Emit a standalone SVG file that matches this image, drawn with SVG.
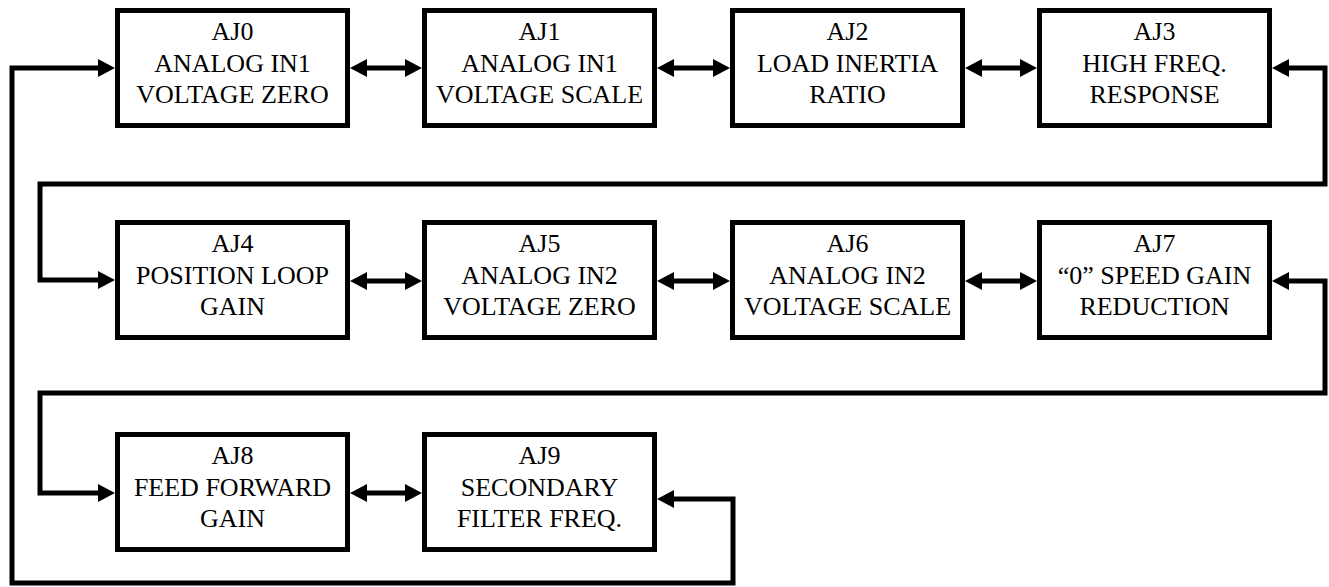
<svg xmlns="http://www.w3.org/2000/svg" width="1329" height="587" viewBox="0 0 1329 587">
<style>
.box{fill:#fff;stroke:#000;stroke-width:5}
.t{font-family:'Liberation Serif',Tinos,'Times New Roman',Times,'Nimbus Roman','Noto Serif','DejaVu Serif',serif;font-size:26px;text-anchor:middle;fill:#000}
.c{fill:none;stroke:#000;stroke-width:5;stroke-linejoin:miter}
.d{marker-start:url(#ah);marker-end:url(#ah)}
</style>
<defs>
<marker id="ah" markerUnits="userSpaceOnUse" markerWidth="17" markerHeight="18" viewBox="0 0 17 18" refX="7" refY="9" orient="auto-start-reverse">
<path d="M0,0 L17,9 L0,18 z" fill="#000"/>
</marker>
</defs>
<rect width="1329" height="587" fill="#fff"/>
<g id="connectors">
<path class="c d" d="M360,68 H412"/>
<path class="c d" d="M667,68 H720"/>
<path class="c d" d="M975,68 H1027"/>
<path class="c d" d="M360,281 H412"/>
<path class="c d" d="M667,281 H720"/>
<path class="c d" d="M975,281 H1027"/>
<path class="c d" d="M360,493 H412"/>
<path class="c d" d="M1282,68 H1325 V184 H40 V280 H105"/>
<path class="c d" d="M1282,281 H1325 V393 H40 V493 H105"/>
<path class="c d" d="M667,499 H733 V583 H12 V68 H105"/>
</g>
<g id="AJ0"><rect class="box" x="117.5" y="10.5" width="230" height="115"/><text class="t" x="232.5" y="40">AJ0</text><text class="t" x="232.5" y="72">ANALOG IN1</text><text class="t" x="232.5" y="103">VOLTAGE ZERO</text></g>
<g id="AJ1"><rect class="box" x="424.5" y="10.5" width="230" height="115"/><text class="t" x="539.5" y="40">AJ1</text><text class="t" x="539.5" y="72">ANALOG IN1</text><text class="t" x="539.5" y="103">VOLTAGE SCALE</text></g>
<g id="AJ2"><rect class="box" x="732.5" y="10.5" width="230" height="115"/><text class="t" x="847.5" y="40">AJ2</text><text class="t" x="847.5" y="72">LOAD INERTIA</text><text class="t" x="847.5" y="103">RATIO</text></g>
<g id="AJ3"><rect class="box" x="1039.5" y="10.5" width="230" height="115"/><text class="t" x="1154.5" y="40">AJ3</text><text class="t" x="1154.5" y="72">HIGH FREQ.</text><text class="t" x="1154.5" y="103">RESPONSE</text></g>
<g id="AJ4"><rect class="box" x="117.5" y="222.5" width="230" height="115"/><text class="t" x="232.5" y="252">AJ4</text><text class="t" x="232.5" y="284">POSITION LOOP</text><text class="t" x="232.5" y="315">GAIN</text></g>
<g id="AJ5"><rect class="box" x="424.5" y="222.5" width="230" height="115"/><text class="t" x="539.5" y="252">AJ5</text><text class="t" x="539.5" y="284">ANALOG IN2</text><text class="t" x="539.5" y="315">VOLTAGE ZERO</text></g>
<g id="AJ6"><rect class="box" x="732.5" y="222.5" width="230" height="115"/><text class="t" x="847.5" y="252">AJ6</text><text class="t" x="847.5" y="284">ANALOG IN2</text><text class="t" x="847.5" y="315">VOLTAGE SCALE</text></g>
<g id="AJ7"><rect class="box" x="1039.5" y="222.5" width="230" height="115"/><text class="t" x="1154.5" y="252">AJ7</text><text class="t" x="1154.5" y="284">“0” SPEED GAIN</text><text class="t" x="1154.5" y="315">REDUCTION</text></g>
<g id="AJ8"><rect class="box" x="117.5" y="434.5" width="230" height="115"/><text class="t" x="232.5" y="464">AJ8</text><text class="t" x="232.5" y="496">FEED FORWARD</text><text class="t" x="232.5" y="527">GAIN</text></g>
<g id="AJ9"><rect class="box" x="424.5" y="434.5" width="230" height="115"/><text class="t" x="539.5" y="464">AJ9</text><text class="t" x="539.5" y="496">SECONDARY</text><text class="t" x="539.5" y="527">FILTER FREQ.</text></g>
</svg>
